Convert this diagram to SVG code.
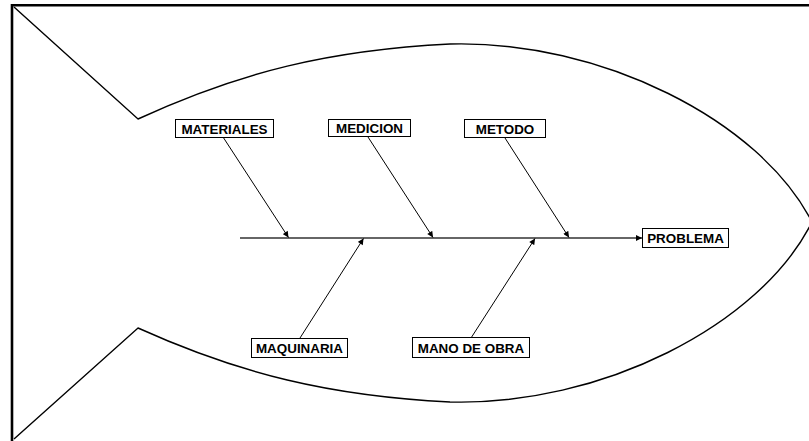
<svg xmlns="http://www.w3.org/2000/svg" width="809" height="441" viewBox="0 0 809 441">
<defs>
<style>
.frame{fill:none;stroke:#000;stroke-width:2.6}
.fish{fill:none;stroke:#000;stroke-width:1.4;stroke-linejoin:miter}
.box{fill:#fff;stroke:#000;stroke-width:1}
.lbl{font-family:"Liberation Sans",Arial,sans-serif;font-weight:bold;font-size:13.4px;fill:#000;text-anchor:middle}
.arr{fill:none;stroke:#000;stroke-width:1;marker-end:url(#ah)}
.spine{fill:none;stroke:#333;stroke-width:1.6;marker-end:url(#ah)}
</style>
<marker id="ah" viewBox="0 0 10 10" refX="10" refY="5" markerWidth="7" markerHeight="6" markerUnits="userSpaceOnUse" orient="auto">
<path d="M0,0 L10,5 L0,10 z" fill="#000"/>
</marker>
</defs>
<rect width="809" height="441" fill="#fff"/>
<path class="frame" d="M12,441 V5.3 H809"/>
<g id="fish">
<path class="fish" d="M14,7 L138,119 C240,72 330,50 450,44 C600,40 760,120 812,222 C760,326 600,406 450,402 C330,396 240,374 138,328 L14,439"/>
</g>
<g id="connectors">
<line class="spine" x1="240" y1="238" x2="642" y2="238"/>
<line class="arr" x1="223" y1="137" x2="288.5" y2="237.5"/>
<line class="arr" x1="368" y1="137" x2="433" y2="237.5"/>
<line class="arr" x1="505" y1="138" x2="569" y2="237.5"/>
<line class="arr" x1="300" y1="338" x2="363.5" y2="238.5"/>
<line class="arr" x1="471" y1="338" x2="535" y2="238.5"/>
</g>
<g id="problema">
<rect class="box" x="642.5" y="228.5" width="86" height="19"/>
<text class="lbl" x="685.5" y="243">PROBLEMA</text>
</g>
<g id="materiales">
<rect class="box" x="175.5" y="119.5" width="98" height="18"/>
<text class="lbl" x="224.5" y="133.5">MATERIALES</text>
</g>
<g id="medicion">
<rect class="box" x="328.5" y="119.5" width="82" height="17"/>
<text class="lbl" x="369.5" y="133">MEDICION</text>
</g>
<g id="metodo">
<rect class="box" x="464.5" y="119.5" width="81" height="18"/>
<text class="lbl" x="505" y="133.5">METODO</text>
</g>
<g id="maquinaria">
<rect class="box" x="251.5" y="338.5" width="96" height="19"/>
<text class="lbl" x="299.5" y="353">MAQUINARIA</text>
</g>
<g id="mano-de-obra">
<rect class="box" x="412.5" y="337.5" width="117" height="20"/>
<text class="lbl" x="471" y="352.5">MANO DE OBRA</text>
</g>
</svg>
